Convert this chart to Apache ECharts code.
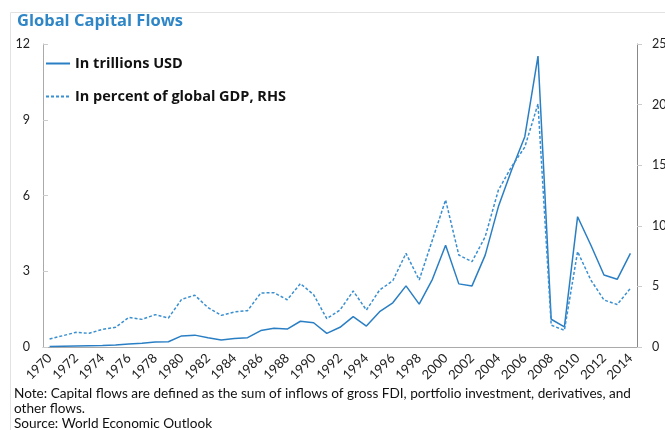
<!DOCTYPE html>
<html>
<head>
<meta charset="utf-8">
<script src="https://cdn.jsdelivr.net/npm/echarts@6/dist/echarts.min.js"></script>
<style>
html,body{margin:0;padding:0;background:#fff;}
#chart{width:665px;height:430px;}
</style>
</head>
<body>
<div id="chart"></div>
<script>
var years = ['1970','1971','1972','1973','1974','1975','1976','1977','1978','1979',
  '1980','1981','1982','1983','1984','1985','1986','1987','1988','1989',
  '1990','1991','1992','1993','1994','1995','1996','1997','1998','1999',
  '2000','2001','2002','2003','2004','2005','2006','2007','2008','2009',
  '2010','2011','2012','2013','2014'];
var trillionsUSD = [0.02,0.03,0.04,0.05,0.06,0.08,0.12,0.15,0.2,0.21,
  0.44,0.47,0.37,0.28,0.34,0.37,0.65,0.74,0.71,1.02,
  0.96,0.54,0.78,1.2,0.83,1.4,1.75,2.42,1.7,2.68,
  4.03,2.5,2.42,3.64,5.56,7.01,8.33,11.52,1.1,0.8,
  5.16,4.04,2.85,2.68,3.71];
var percentGDP = [0.66,0.93,1.21,1.13,1.46,1.62,2.45,2.28,2.67,2.39,
  3.93,4.27,3.25,2.61,2.89,3.0,4.46,4.48,3.9,5.23,
  4.32,2.34,3.05,4.62,3.05,4.7,5.47,7.73,5.53,8.83,
  12.13,7.59,7.04,9.1,12.95,14.88,16.5,20.05,1.8,1.38,
  7.87,5.53,3.88,3.5,4.84];
var seriesNames = ['In trillions USD','In percent of global GDP, RHS'];
var titleText = 'Global Capital Flows';
var noteLines = ['Note: Capital flows are defined as the sum of inflows of gross FDI, portfolio investment, derivatives, and',
  'other flows.',
  'Source: World Economic Outlook'];

var chart = echarts.init(document.getElementById('chart'), null, {renderer:'canvas'});
var font = 'Lato, "Open Sans", sans-serif';
var boldFont = '"Open Sans", Lato, sans-serif';
chart.setOption({
  animation:false,
  backgroundColor:'#fff',
  textStyle:{fontFamily:font},
  title:{text:titleText,left:12,top:8,padding:[5,5],textStyle:{color:'#2f86c6',fontSize:16.5,fontWeight:'bold',fontFamily:boldFont}},
  legend:{
    orient:'vertical',left:45,top:56,padding:0,itemWidth:24,itemHeight:15,itemGap:18,
    itemStyle:{opacity:0},
    textStyle:{color:'#111',fontSize:14.5,fontWeight:'bold',fontFamily:boldFont},
    data:seriesNames
  },
  grid:{left:43,right:28,top:44,bottom:83,containLabel:false,outerBoundsMode:'none'},
  xAxis:{
    type:'category',data:years,boundaryGap:true,
    axisLine:{lineStyle:{color:'#aaa',width:1}},
    axisTick:{inside:true,length:5,interval:0,lineStyle:{color:'#ccc'}},
    axisLabel:{interval:1,rotate:45,fontSize:13,color:'#222',margin:9,padding:[14,0,0,0],fontFamily:font}
  },
  yAxis:[
    {type:'value',min:0,max:12,interval:3,position:'left',
     axisLine:{show:true,lineStyle:{color:'#aaa'}},
     axisTick:{show:true,inside:true,length:5,lineStyle:{color:'#ccc'}},
     axisLabel:{fontSize:12.5,color:'#222',margin:13,fontFamily:font},
     splitLine:{show:false}},
    {type:'value',min:0,max:25,interval:5,position:'right',
     axisLine:{show:true,lineStyle:{color:'#888'}},
     axisTick:{show:true,inside:false,length:5,lineStyle:{color:'#ccc'}},
     axisLabel:{fontSize:12.5,color:'#222',margin:15,fontFamily:font},
     splitLine:{show:false}}
  ],
  series:[
    {name:seriesNames[0],type:'line',yAxisIndex:0,data:trillionsUSD,symbol:'none',
     lineStyle:{color:'#2a7fc4',width:1.5},itemStyle:{color:'#2a7fc4'}},
    {name:seriesNames[1],type:'line',yAxisIndex:1,data:percentGDP,symbol:'none',
     lineStyle:{color:'#3a8fd0',width:1.5,type:[3,2]},itemStyle:{color:'#3a8fd0'}}
  ],
  graphic:[
    {type:'rect',shape:{x:10.5,y:12.5,width:700,height:500},style:{fill:'none',stroke:'#e2e2e2',lineWidth:1},silent:true,z:-1},
    {type:'text',left:14,top:387,style:{text:noteLines[0],font:'13.6px '+font,fill:'#111'}},
    {type:'text',left:14,top:402,style:{text:noteLines[1],font:'13.6px '+font,fill:'#111'}},
    {type:'text',left:14,top:417,style:{text:noteLines[2],font:'13.6px '+font,fill:'#111'}}
  ]
});
</script>
</body>
</html>
